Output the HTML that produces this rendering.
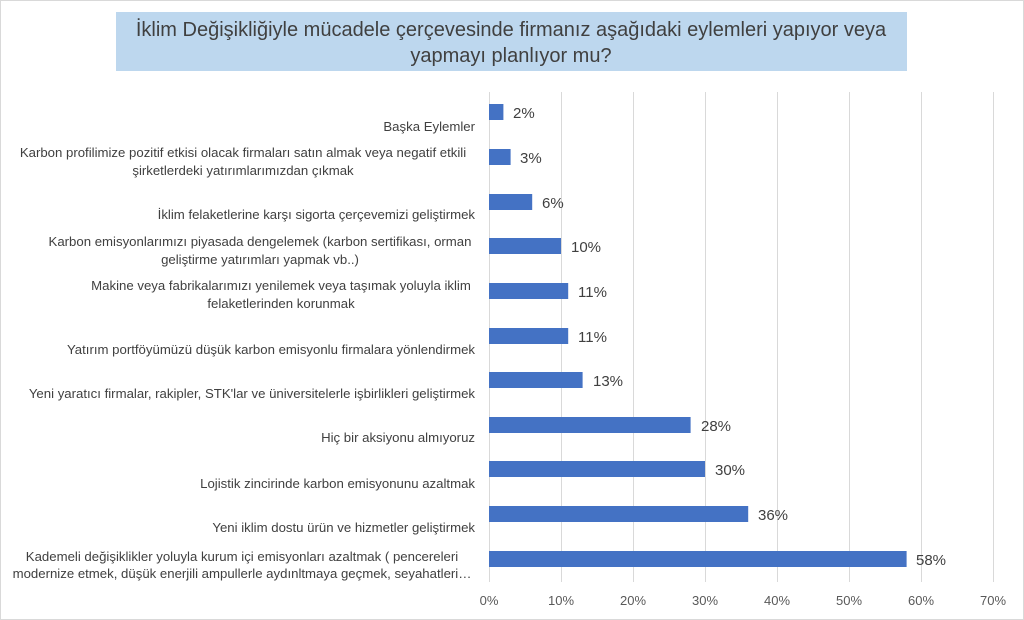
<!DOCTYPE html>
<html><head><meta charset="utf-8"><style>
body{margin:0;background:#fff}
svg{display:block;font-family:"Liberation Sans","DejaVu Sans",sans-serif}
</style></head><body>
<svg width="1024" height="620" viewBox="0 0 1024 620">
<rect x="0.5" y="0.5" width="1023" height="619" fill="#fff" stroke="#d9d9d9"/>
<rect x="116" y="12" width="791" height="59" fill="#bdd7ee"/>
<text x="511" y="36" font-size="20" fill="#404040" text-anchor="middle">İklim Değişikliğiyle mücadele çerçevesinde firmanız aşağıdaki eylemleri yapıyor veya</text>
<text x="511" y="62" font-size="20" fill="#404040" text-anchor="middle">yapmayı planlıyor mu?</text>
<g stroke="#d9d9d9" stroke-width="1">
<line x1="489.5" y1="92" x2="489.5" y2="582"/>
<line x1="561.5" y1="92" x2="561.5" y2="582"/>
<line x1="633.5" y1="92" x2="633.5" y2="582"/>
<line x1="705.5" y1="92" x2="705.5" y2="582"/>
<line x1="777.5" y1="92" x2="777.5" y2="582"/>
<line x1="849.5" y1="92" x2="849.5" y2="582"/>
<line x1="921.5" y1="92" x2="921.5" y2="582"/>
<line x1="993.5" y1="92" x2="993.5" y2="582"/>
</g>
<g font-size="13" fill="#595959" text-anchor="middle">
<text x="489" y="605">0%</text><text x="561" y="605">10%</text><text x="633" y="605">20%</text><text x="705" y="605">30%</text><text x="777" y="605">40%</text><text x="849" y="605">50%</text><text x="921" y="605">60%</text><text x="993" y="605">70%</text>
</g>
<g fill="#4472c4">
<rect x="489" y="104" width="14.4" height="16"/>
<rect x="489" y="149" width="21.6" height="16"/>
<rect x="489" y="194" width="43.2" height="16"/>
<rect x="489" y="238" width="72" height="16"/>
<rect x="489" y="283" width="79.2" height="16"/>
<rect x="489" y="328" width="79.2" height="16"/>
<rect x="489" y="372" width="93.6" height="16"/>
<rect x="489" y="417" width="201.6" height="16"/>
<rect x="489" y="461" width="216" height="16"/>
<rect x="489" y="506" width="259.2" height="16"/>
<rect x="489" y="551" width="417.6" height="16"/>
</g>
<g font-size="15" fill="#404040">
<text x="513" y="118">2%</text>
<text x="520" y="163">3%</text>
<text x="542" y="208">6%</text>
<text x="571" y="252">10%</text>
<text x="578" y="297">11%</text>
<text x="578" y="342">11%</text>
<text x="593" y="386">13%</text>
<text x="701" y="431">28%</text>
<text x="715" y="475">30%</text>
<text x="758" y="520">36%</text>
<text x="916" y="565">58%</text>
</g>
<g font-size="13.2" fill="#404040" text-anchor="end">
<text x="475" y="131">Başka Eylemler</text>
<text x="475" y="219">İklim felaketlerine karşı sigorta çerçevemizi geliştirmek</text>
<text x="475" y="354">Yatırım portföyümüzü düşük karbon emisyonlu firmalara yönlendirmek</text>
<text x="475" y="398">Yeni yaratıcı firmalar, rakipler, STK'lar ve üniversitelerle işbirlikleri geliştirmek</text>
<text x="475" y="442">Hiç bir aksiyonu almıyoruz</text>
<text x="475" y="488">Lojistik zincirinde karbon emisyonunu azaltmak</text>
<text x="475" y="532">Yeni iklim dostu ürün ve hizmetler geliştirmek</text>
</g>
<g font-size="13.2" fill="#404040" text-anchor="middle">
<text x="243" y="157">Karbon profilimize pozitif etkisi olacak firmaları satın almak veya negatif etkili</text>
<text x="243" y="175">şirketlerdeki yatırımlarımızdan çıkmak</text>
<text x="260" y="246">Karbon emisyonlarımızı piyasada dengelemek (karbon sertifikası, orman</text>
<text x="260" y="264">geliştirme yatırımları yapmak vb..)</text>
<text x="281" y="290">Makine veya fabrikalarımızı yenilemek veya taşımak yoluyla iklim</text>
<text x="281" y="308">felaketlerinden korunmak</text>
<text x="242" y="561">Kademeli değişiklikler yoluyla kurum içi emisyonları azaltmak ( pencereleri</text>
<text x="242" y="578">modernize etmek, düşük enerjili ampullerle aydınltmaya geçmek, seyahatleri…</text>
</g>
</svg>
</body></html>
